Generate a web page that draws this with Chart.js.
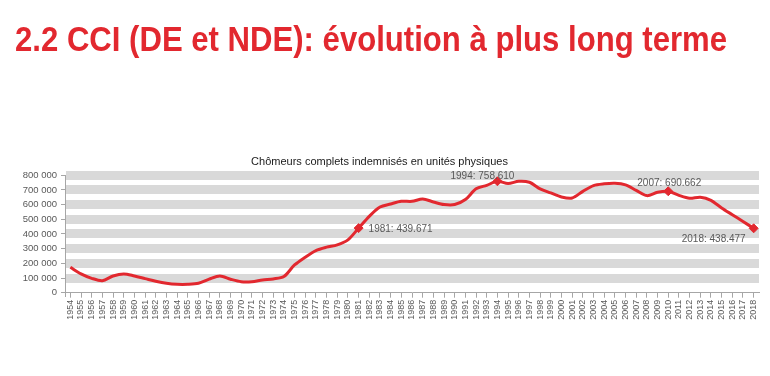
<!DOCTYPE html>
<html>
<head>
<meta charset="utf-8">
<script src="https://cdn.jsdelivr.net/npm/chart.js@4.4.1/dist/chart.umd.min.js"></script>
<style>
  body { margin: 0; background: #fff; }
  #wrap { position: relative; width: 770px; height: 376px; }
  #hdr {
    position: absolute; left: 15px; top: 21px;
    font: bold 35px "Liberation Sans Narrow", "Liberation Sans", sans-serif;
    line-height: 1; color: #e2282f; white-space: nowrap;
    transform-origin: left top;
  }
  canvas { position: absolute; left: 0; top: 0; }
</style>
</head>
<body>
<div id="wrap">
  <canvas id="chart" width="770" height="376"></canvas>
  <div id="hdr">2.2 CCI (DE et NDE): évolution à plus long terme</div>
</div>
<script>
// Data
const years = [];
for (let y = 1954; y <= 2018; y++) years.push(String(y));

const chomeurs = [
  173000, 128000, 98000, 82000, 114000, 128000, 114000, 96000, 78000, 64000,
  57000, 57000, 64000, 92000, 114000, 92000, 75000, 75000, 87000, 94000,
  110000, 189000, 242000, 287000, 310000, 326000, 360000, 439671, 520000, 583000,
  604000, 622000, 622000, 638000, 618000, 600000, 600000, 634000, 707000, 731000,
  758610, 743000, 759000, 752000, 707000, 679000, 652000, 645000, 690000, 729000,
  741000, 745000, 734000, 697000, 661000, 684000, 690662, 663000, 643000, 650000,
  629000, 577000, 531000, 485000, 438477
];

const yTicks = [0, 100000, 200000, 300000, 400000, 500000, 600000, 700000, 800000];

// highlighted points and their labels
const markYears = ['1981', '1994', '2010', '2018'];
const markTexts = ['1981: 439.671', '1994: 758.610', '2007: 690.662', '2018: 438.477'];

const chartTitle = 'Chômeurs complets indemnisés en unités physiques';
const red = '#e2282f';

// fit the big header to its width in the picture
const hdr = document.getElementById('hdr');
const hw = hdr.getBoundingClientRect().width;
hdr.style.transform = 'scaleX(' + (712 / hw) + ')';

function fmt(v) {
  return String(v).replace(/\B(?=(\d{3})+(?!\d))/g, ' ');
}

const markIdx = markYears.map(y => years.indexOf(y));

// To write the value labels next to the marked points
const markLabels = {
  id: 'markLabels',
  afterDatasetsDraw(chart) {
    const ctx = chart.ctx;
    const pts = chart.getDatasetMeta(0).data;
    const place = [
      { dx: 10, dy: 1, align: 'left' },
      { dx: 17, dy: -5, align: 'right' },
      { dx: 1, dy: -8, align: 'center' },
      { dx: -8, dy: 11, align: 'right' }
    ];
    ctx.save();
    ctx.font = '10px "Liberation Sans"';
    ctx.fillStyle = '#595959';
    ctx.textBaseline = 'middle';
    markIdx.forEach((i, k) => {
      const p = pts[i];
      ctx.textAlign = place[k].align;
      ctx.fillText(markTexts[k], p.x + place[k].dx, p.y + place[k].dy);
    });
    ctx.restore();
  }
};

Chart.defaults.font.family = '"Liberation Sans", sans-serif';

new Chart(document.getElementById('chart'), {
  type: 'line',
  data: {
    labels: years,
    datasets: [{
      data: chomeurs,
      borderColor: red,
      backgroundColor: red,
      borderWidth: 3,
      tension: 0.3,
      pointStyle: 'rectRot',
      pointRadius: years.map((y, i) => markIdx.includes(i) ? 4.5 : 0),
      pointBorderWidth: 1
    }]
  },
  options: {
    responsive: false,
    animation: false,
    layout: { padding: { top: 155, right: 11, left: 0, bottom: 0 } },
    plugins: {
      legend: { display: false },
      tooltip: { enabled: false },
      title: {
        display: true,
        text: chartTitle,
        color: '#1a1a1a',
        font: { size: 11, weight: 'normal' },
        padding: { top: 0, bottom: 7 }
      }
    },
    scales: {
      x: {
        offset: true,
        grid: { drawOnChartArea: false, tickLength: 5, tickColor: '#a6a6a6' },
        border: { color: '#a6a6a6' },
        ticks: {
          autoSkip: false, maxRotation: 90, minRotation: 90,
          font: { size: 9 }, color: '#595959', padding: 2
        },
        afterFit(s) { s.height = 83.3; }
      },
      y: {
        min: 0,
        max: 800000,
        afterBuildTicks(s) { s.ticks = yTicks.map(v => ({ value: v })); },
        ticks: {
          callback: v => fmt(v),
          font: { size: 9.5 }, color: '#595959', padding: 4
        },
        grid: {
          color: c => (c.tick && c.tick.value === 0) ? 'rgba(0,0,0,0)' : '#d9d9d9',
          lineWidth: 9,
          tickLength: 4,
          tickWidth: 1,
          tickColor: '#a6a6a6'
        },
        border: { color: '#a6a6a6' },
        afterFit(s) { s.width = 65; }
      }
    }
  },
  plugins: [markLabels]
});
</script>
</body>
</html>
